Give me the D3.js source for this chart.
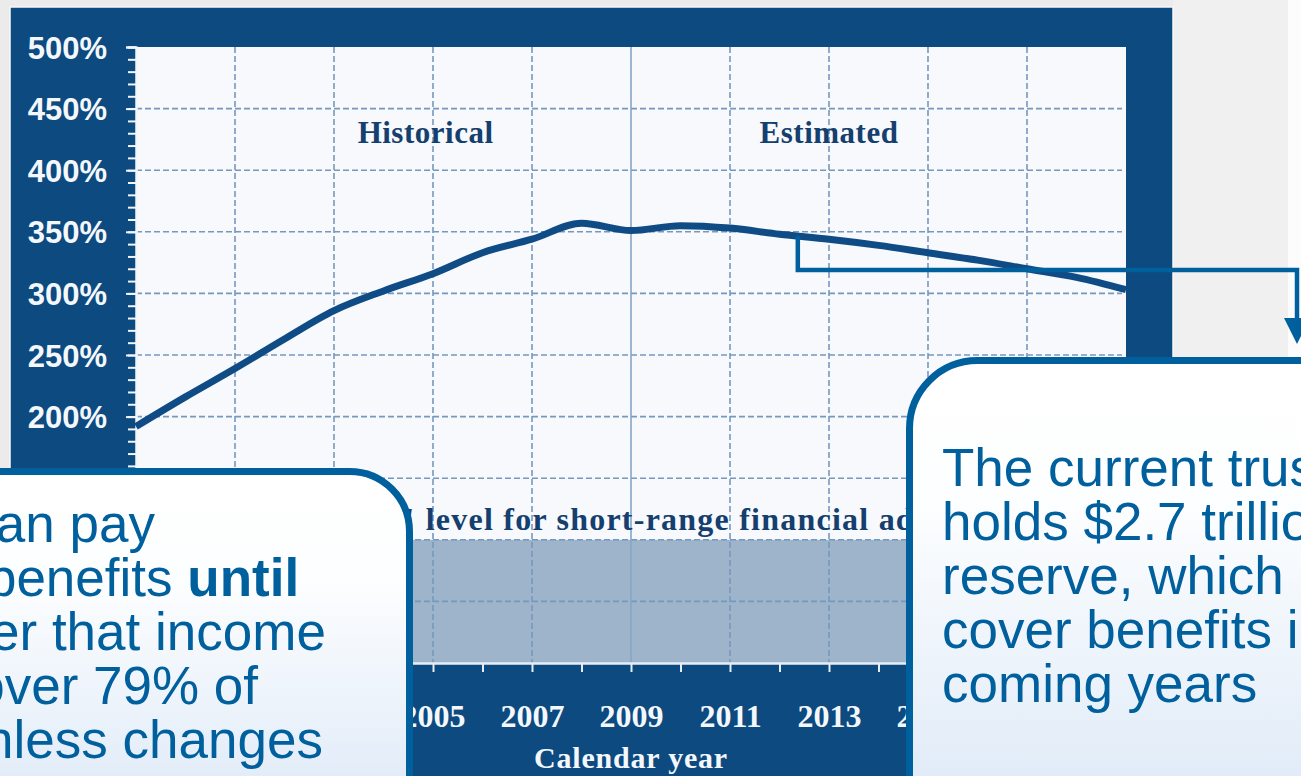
<!DOCTYPE html>
<html>
<head>
<meta charset="utf-8">
<script src="https://cdn.jsdelivr.net/npm/d3@7"></script>
<style>
  html, body { margin: 0; padding: 0; background: #ffffff; overflow: hidden; }
  svg { display: block; }
</style>
</head>
<body>
<svg id="chart" width="1301" height="776"></svg>
<script>
// Trust fund ratio (reserves as % of annual cost), by calendar year
const years = [1999, 2000, 2001, 2002, 2003, 2004, 2005, 2006, 2007, 2008, 2009,
               2010, 2011, 2012, 2013, 2014, 2015, 2016, 2017, 2018, 2019];
const ratio = [192, 216, 239, 263, 286, 302, 316, 333, 344, 357, 351,
               355, 353, 348, 344, 339, 333, 327, 320, 313, 303];

// Axis ticks and labels
const yMajorTicks = [0, 50, 100, 150, 200, 250, 300, 350, 400, 450, 500];
const yMinorTicks = d3.range(0, 501, 10);
const xTickYears = d3.range(1999, 2020, 1);
const xLabelYears = [2001, 2003, 2005, 2007, 2009, 2011, 2013, 2015, 2017];
const splitYear = 2009;
const minimumLevel = 100;

// Text
const periodLabels = ["Historical", "Estimated"];
const bandLabel = "\"Minimum\" level for short-range financial adequacy";
const xAxisTitle = "Calendar year";
const leftNote = [
  [["Social Security can pay", false]],
  [["its full promised benefits ", false], ["until", true]],
  [["around 2037; after that income", false]],
  [["is projected to cover 79% of", false]],
  [["future benefits unless changes", false]]
];
const rightNote = [
  "The current trust fund",
  "holds $2.7 trillion in",
  "reserve, which may",
  "cover benefits in the",
  "coming years"
];

const W = 1301, H = 776;
const svg = d3.select("#chart");

const navy = "#0c4a80";
const noteBlue = "#005f9d";
const serif = "'Liberation Serif', 'Times New Roman', serif";
const sans = "'Liberation Sans', Arial, sans-serif";

// Page background
svg.append("rect").attr("width", W).attr("height", H).attr("fill", "#ebebeb");
svg.append("rect").attr("x", 1173).attr("y", 0).attr("width", 115).attr("height", H).attr("fill", "#f0f0f0");
svg.append("rect").attr("x", 1288).attr("y", 0).attr("width", 13).attr("height", H).attr("fill", "#fcfcfc");

// Dark chart frame
svg.append("rect")
  .attr("x", 10).attr("y", 7).attr("width", 1163).attr("height", 800)
  .attr("fill", navy).attr("stroke", "#f7f7f7").attr("stroke-width", 1.5);

// Plot region
const plot = { left: 136, right: 1126, top: 47, bottom: 663 };
const x = d3.scaleLinear().domain([1999, 2019]).range([plot.left, plot.right]);
const y = d3.scaleLinear().domain([0, 500]).range([plot.bottom, plot.top]);

svg.append("rect")
  .attr("x", plot.left).attr("y", plot.top)
  .attr("width", plot.right - plot.left).attr("height", plot.bottom - plot.top)
  .attr("fill", "#f7f9fc");

// Shaded band below the minimum level
svg.append("rect")
  .attr("x", plot.left).attr("y", y(minimumLevel))
  .attr("width", plot.right - plot.left).attr("height", y(0) - y(minimumLevel))
  .attr("fill", "#9db4cb");

// Grid
const grid = svg.append("g");
grid.selectAll("line.h")
  .data(yMajorTicks.filter(d => d > 0 && d < 500))
  .join("line")
  .attr("x1", plot.left).attr("x2", plot.right - 4)
  .attr("y1", d => y(d)).attr("y2", d => y(d))
  .attr("stroke", "#7798bd").attr("stroke-width", 1.6)
  .attr("stroke-dasharray", "6,3");
grid.selectAll("line.v")
  .data(xLabelYears)
  .join("line")
  .attr("x1", d => x(d)).attr("x2", d => x(d))
  .attr("y1", plot.top).attr("y2", plot.bottom)
  .attr("stroke", d => d === splitYear ? "#86a5c6" : "#7798bd")
  .attr("stroke-width", 1.6)
  .attr("stroke-dasharray", d => d === splitYear ? null : "6,3");

// Period labels
svg.append("g").selectAll("text")
  .data(periodLabels)
  .join("text")
  .attr("x", (d, i) => x(i === 0 ? 2004.85 : 2013))
  .attr("y", 143)
  .attr("text-anchor", "middle")
  .attr("font-family", serif).attr("font-weight", "bold")
  .attr("font-size", 31).attr("letter-spacing", 0.5)
  .attr("fill", "#143f6f")
  .text(d => d);

// Minimum level caption
svg.append("text")
  .attr("x", x(2001) - 2).attr("y", y(minimumLevel) - 10)
  .attr("font-family", serif).attr("font-weight", "bold")
  .attr("font-size", 32).attr("letter-spacing", 1.23)
  .attr("fill", "#143f6f")
  .text(bandLabel);

// Y axis (minor + major)
const yMinor = svg.append("g").attr("transform", `translate(${plot.left},0)`)
  .call(d3.axisLeft(y).tickValues(yMinorTicks).tickSize(8).tickFormat(""));
const yMajor = svg.append("g").attr("transform", `translate(${plot.left},0)`)
  .call(d3.axisLeft(y).tickValues(yMajorTicks).tickSize(10).tickPadding(19)
        .tickFormat(d => d + "%"));
[yMinor, yMajor].forEach(g => {
  g.select(".domain").attr("stroke", "#f2f6fa").attr("stroke-width", 2);
  g.selectAll(".tick line").attr("stroke", "#f2f6fa").attr("stroke-width", 2);
});
yMajor.selectAll(".tick text")
  .attr("fill", "#f4f7fb").attr("font-family", sans).attr("font-weight", "bold")
  .attr("font-size", 31).attr("dy", "0.36em");

// X axis (yearly ticks, labels every two years)
const xTicks = svg.append("g").attr("transform", `translate(0,${plot.bottom})`)
  .call(d3.axisBottom(x).tickValues(xTickYears).tickSize(9).tickFormat(""));
xTicks.select(".domain").attr("stroke", "#e6edf4").attr("stroke-width", 2.5);
xTicks.selectAll(".tick line").attr("stroke", "#e6edf4").attr("stroke-width", 2);
const xLabels = svg.append("g").attr("transform", `translate(0,${plot.bottom})`)
  .call(d3.axisBottom(x).tickValues(xLabelYears).tickSize(0).tickPadding(41)
        .tickFormat(d3.format("d")));
xLabels.select(".domain").remove();
xLabels.selectAll(".tick text")
  .attr("fill", "#f4f7fb").attr("font-family", serif).attr("font-weight", "bold")
  .attr("font-size", 32);

svg.append("text")
  .attr("x", x(splitYear)).attr("y", 768)
  .attr("text-anchor", "middle")
  .attr("font-family", serif).attr("font-weight", "bold")
  .attr("font-size", 30).attr("letter-spacing", 0.8)
  .attr("fill", "#f4f7fb")
  .text(xAxisTitle);

// Trust fund ratio line
const series = years.map((yr, i) => ({ year: yr, value: ratio[i] }));
const line = d3.line()
  .x(d => x(d.year)).y(d => y(d.value))
  .curve(d3.curveMonotoneX);
svg.append("path")
  .datum(series)
  .attr("d", line)
  .attr("fill", "none")
  .attr("stroke", "#0f4c85")
  .attr("stroke-width", 7)
  .attr("stroke-linejoin", "round");

// Callout boxes
const defs = svg.append("defs");
const grad = defs.append("linearGradient")
  .attr("id", "noteFill").attr("x1", 0).attr("y1", 0).attr("x2", 0).attr("y2", 1);
grad.append("stop").attr("offset", "0%").attr("stop-color", "#ffffff");
grad.append("stop").attr("offset", "30%").attr("stop-color", "#fdfeff");
grad.append("stop").attr("offset", "100%").attr("stop-color", "#dde9f7");

const leftBox = { right: 409.5, top: 471.5, r: 60 };
svg.append("path")
  .attr("d", `M -20 ${leftBox.top} L ${leftBox.right - leftBox.r} ${leftBox.top}
              A ${leftBox.r} ${leftBox.r} 0 0 1 ${leftBox.right} ${leftBox.top + leftBox.r}
              L ${leftBox.right} 820 L -20 820 Z`)
  .attr("fill", "url(#noteFill)")
  .attr("stroke", noteBlue).attr("stroke-width", 7);

const rightBox = { left: 909.5, top: 360.5, r: 68 };
svg.append("path")
  .attr("d", `M ${rightBox.left} 820 L ${rightBox.left} ${rightBox.top + rightBox.r}
              A ${rightBox.r} ${rightBox.r} 0 0 1 ${rightBox.left + rightBox.r} ${rightBox.top}
              L 1330 ${rightBox.top} L 1330 820 Z`)
  .attr("fill", "url(#noteFill)")
  .attr("stroke", noteBlue).attr("stroke-width", 7);

// Callout text
const noteSize = 53, noteLead = 54;
const leftText = svg.append("text")
  .attr("font-family", sans).attr("font-size", noteSize).attr("fill", noteBlue);
leftNote.forEach((parts, i) => {
  parts.forEach(([str, bold], j) => {
    const t = leftText.append("tspan").text(str)
      .attr("font-weight", bold ? "bold" : "normal");
    if (j === 0) t.attr("x", -396).attr("y", 542 + i * noteLead);
  });
});

svg.append("text")
  .attr("font-family", sans).attr("font-size", noteSize).attr("fill", noteBlue)
  .selectAll("tspan")
  .data(rightNote)
  .join("tspan")
  .attr("x", 942).attr("y", (d, i) => 486 + i * noteLead)
  .text(d => d);

// Connector from the projected line to the right-hand note
const anchorYear = 2012.37;
const anchorValue = ratio[years.indexOf(2012)] + (ratio[years.indexOf(2013)] - ratio[years.indexOf(2012)]) * 0.37;
const elbowY = 270, arrowX = 1297, arrowTop = 318, arrowTip = 344;
svg.append("path")
  .attr("d", `M ${x(anchorYear)} ${y(anchorValue)} V ${elbowY} H ${arrowX} V ${arrowTop + 2}`)
  .attr("fill", "none").attr("stroke", noteBlue).attr("stroke-width", 4.5)
  .attr("stroke-linejoin", "miter");
svg.append("path")
  .attr("d", `M ${arrowX - 13} ${arrowTop} L ${arrowX + 13} ${arrowTop} L ${arrowX} ${arrowTip} Z`)
  .attr("fill", noteBlue);
</script>
</body>
</html>
